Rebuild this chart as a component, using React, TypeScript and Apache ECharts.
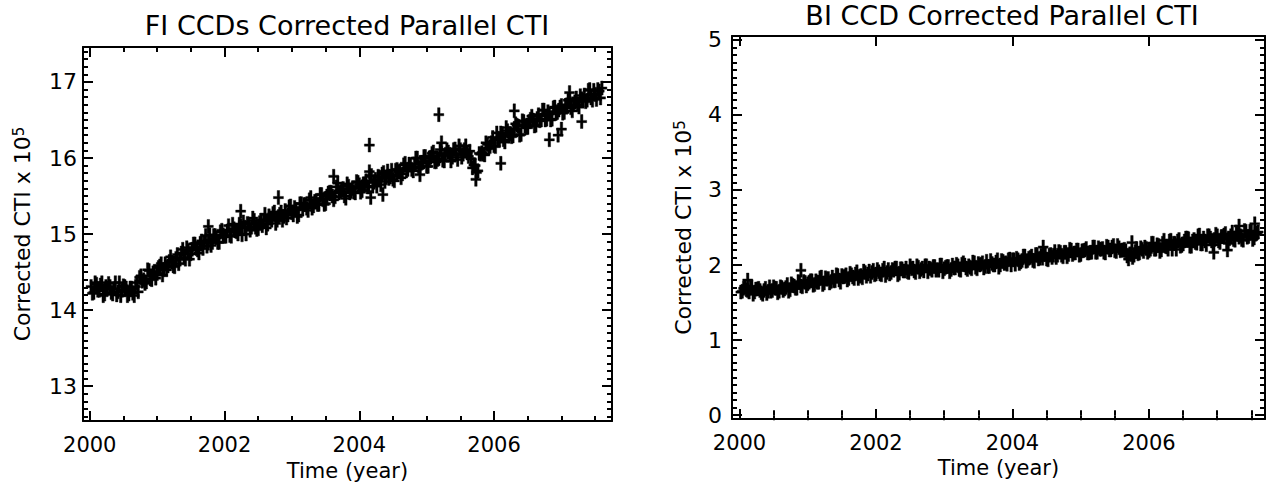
import React, { useEffect, useRef } from "react";
import * as echarts from "echarts";

// Observation times, first set
const years = [
  2000.02, 2000.06, 2000.10, 2000.14, 2000.18, 2000.22, 2000.26, 2000.30, 2000.34, 2000.38, 2000.42, 2000.46, 2000.50, 2000.54, 2000.58, 2000.62, 2000.66, 2000.70, 2000.74, 2000.78, 2000.82, 2000.86, 2000.90, 2000.94, 2000.98,
  2001.02, 2001.06, 2001.10, 2001.14, 2001.18, 2001.22, 2001.26, 2001.30, 2001.34, 2001.38, 2001.42, 2001.46, 2001.50, 2001.54, 2001.58, 2001.62, 2001.66, 2001.70, 2001.74, 2001.78, 2001.82, 2001.86, 2001.90, 2001.94, 2001.98,
  2002.02, 2002.06, 2002.10, 2002.14, 2002.18, 2002.22, 2002.26, 2002.30, 2002.34, 2002.38, 2002.42, 2002.46, 2002.50, 2002.54, 2002.58, 2002.62, 2002.66, 2002.70, 2002.74, 2002.78, 2002.82, 2002.86, 2002.90, 2002.94, 2002.98,
  2003.02, 2003.06, 2003.10, 2003.14, 2003.18, 2003.22, 2003.26, 2003.30, 2003.34, 2003.38, 2003.42, 2003.46, 2003.50, 2003.54, 2003.58, 2003.62, 2003.66, 2003.70, 2003.74, 2003.78, 2003.82, 2003.86, 2003.90, 2003.94, 2003.98,
  2004.02, 2004.06, 2004.10, 2004.14, 2004.18, 2004.22, 2004.26, 2004.30, 2004.34, 2004.38, 2004.42, 2004.46, 2004.50, 2004.54, 2004.58, 2004.62, 2004.66, 2004.70, 2004.74, 2004.78, 2004.82, 2004.86, 2004.90, 2004.94, 2004.98,
  2005.02, 2005.06, 2005.10, 2005.14, 2005.18, 2005.22, 2005.26, 2005.30, 2005.34, 2005.38, 2005.42, 2005.46, 2005.50, 2005.54, 2005.58, 2005.62, 2005.66, 2005.70, 2005.74, 2005.78, 2005.82, 2005.86, 2005.90, 2005.94, 2005.98,
  2006.02, 2006.06, 2006.10, 2006.14, 2006.18, 2006.22, 2006.26, 2006.30, 2006.34, 2006.38, 2006.42, 2006.46, 2006.50, 2006.54, 2006.58, 2006.62, 2006.66, 2006.70, 2006.74, 2006.78, 2006.82, 2006.86, 2006.90, 2006.94, 2006.98,
  2007.02, 2007.06, 2007.10, 2007.14, 2007.18, 2007.22, 2007.26, 2007.30, 2007.34, 2007.38, 2007.42, 2007.46, 2007.50, 2007.54, 2007.58,
];

// Observation times, second (interleaved) set
const yearsB = [
  2000.04, 2000.08, 2000.12, 2000.16, 2000.20, 2000.24, 2000.28, 2000.32, 2000.36, 2000.40, 2000.44, 2000.48, 2000.52, 2000.56, 2000.60, 2000.64, 2000.68, 2000.72, 2000.76, 2000.80, 2000.84, 2000.88, 2000.92, 2000.96, 2001.00,
  2001.04, 2001.08, 2001.12, 2001.16, 2001.20, 2001.24, 2001.28, 2001.32, 2001.36, 2001.40, 2001.44, 2001.48, 2001.52, 2001.56, 2001.60, 2001.64, 2001.68, 2001.72, 2001.76, 2001.80, 2001.84, 2001.88, 2001.92, 2001.96, 2002.00,
  2002.04, 2002.08, 2002.12, 2002.16, 2002.20, 2002.24, 2002.28, 2002.32, 2002.36, 2002.40, 2002.44, 2002.48, 2002.52, 2002.56, 2002.60, 2002.64, 2002.68, 2002.72, 2002.76, 2002.80, 2002.84, 2002.88, 2002.92, 2002.96, 2003.00,
  2003.04, 2003.08, 2003.12, 2003.16, 2003.20, 2003.24, 2003.28, 2003.32, 2003.36, 2003.40, 2003.44, 2003.48, 2003.52, 2003.56, 2003.60, 2003.64, 2003.68, 2003.72, 2003.76, 2003.80, 2003.84, 2003.88, 2003.92, 2003.96, 2004.00,
  2004.04, 2004.08, 2004.12, 2004.16, 2004.20, 2004.24, 2004.28, 2004.32, 2004.36, 2004.40, 2004.44, 2004.48, 2004.52, 2004.56, 2004.60, 2004.64, 2004.68, 2004.72, 2004.76, 2004.80, 2004.84, 2004.88, 2004.92, 2004.96, 2005.00,
  2005.04, 2005.08, 2005.12, 2005.16, 2005.20, 2005.24, 2005.28, 2005.32, 2005.36, 2005.40, 2005.44, 2005.48, 2005.52, 2005.56, 2005.60, 2005.64, 2005.68, 2005.72, 2005.76, 2005.80, 2005.84, 2005.88, 2005.92, 2005.96, 2006.00,
  2006.04, 2006.08, 2006.12, 2006.16, 2006.20, 2006.24, 2006.28, 2006.32, 2006.36, 2006.40, 2006.44, 2006.48, 2006.52, 2006.56, 2006.60, 2006.64, 2006.68, 2006.72, 2006.76, 2006.80, 2006.84, 2006.88, 2006.92, 2006.96, 2007.00,
  2007.04, 2007.08, 2007.12, 2007.16, 2007.20, 2007.24, 2007.28, 2007.32, 2007.36, 2007.40, 2007.44, 2007.48, 2007.52, 2007.56, 2007.60,
];

// FI CCDs corrected parallel CTI (x 1e5), first set
const fiCti = [
  14.31, 14.23, 14.34, 14.26, 14.36, 14.21, 14.29, 14.31, 14.21, 14.36, 14.24, 14.19, 14.32, 14.29, 14.21, 14.29, 14.19, 14.36, 14.43, 14.38, 14.35, 14.53, 14.41, 14.49, 14.42,
  14.56, 14.61, 14.53, 14.53, 14.64, 14.63, 14.57, 14.73, 14.67, 14.80, 14.67, 14.78, 14.74, 14.87, 14.81, 14.75, 14.91, 14.89, 14.84, 14.99, 14.89, 14.98, 14.89, 15.03, 14.99,
  14.97, 15.11, 14.97, 15.07, 15.03, 15.13, 14.99, 15.09, 15.14, 15.05, 15.21, 15.09, 15.07, 15.18, 15.18, 15.08, 15.24, 15.18, 15.29, 15.18, 15.26, 15.18, 15.31, 15.25, 15.37,
  15.25, 15.32, 15.25, 15.40, 15.39, 15.34, 15.45, 15.34, 15.43, 15.39, 15.52, 15.45, 15.40, 15.54, 15.55, 15.45, 15.62, 15.54, 15.59, 15.50, 15.66, 15.54, 15.60, 15.54, 15.68,
  15.55, 15.66, 15.70, 15.62, 15.77, 15.68, 15.63, 15.75, 15.79, 15.69, 15.83, 15.75, 15.72, 15.84, 15.82, 15.74, 15.91, 15.83, 15.92, 15.85, 15.92, 16.00, 15.87, 15.94, 16.02,
  15.89, 16.01, 16.08, 15.95, 15.99, 16.06, 15.96, 16.11, 16.05, 16.01, 16.12, 15.98, 16.11, 16.05, 16.16, 16.02, 15.99, 15.91, 15.81, 16.06, 16.07, 16.04, 16.18, 16.15, 16.27,
  16.15, 16.26, 16.33, 16.24, 16.40, 16.29, 16.28, 16.39, 16.43, 16.30, 16.49, 16.42, 16.40, 16.51, 16.50, 16.43, 16.57, 16.50, 16.63, 16.51, 16.58, 16.51, 16.67, 16.60, 16.67,
  16.59, 16.69, 16.76, 16.66, 16.70, 16.79, 16.67, 16.78, 16.83, 16.76, 16.90, 16.76, 16.84, 16.90, 16.79,
];

// FI CCDs corrected parallel CTI (x 1e5), second set
const fiCtiB = [
  14.22, 14.36, 14.26, 14.33, 14.19, 14.31, 14.35, 14.23, 14.28, 14.20, 14.36, 14.26, 14.31, 14.19, 14.29, 14.22, 14.31, 14.24, 14.45, 14.40, 14.37, 14.52, 14.40, 14.51, 14.48,
  14.58, 14.46, 14.61, 14.58, 14.70, 14.58, 14.68, 14.61, 14.75, 14.69, 14.82, 14.67, 14.80, 14.87, 14.79, 14.88, 14.81, 14.98, 14.88, 14.85, 14.98, 14.95, 14.89, 15.05, 14.97,
  15.04, 14.98, 15.13, 15.04, 15.00, 15.11, 15.16, 15.00, 15.13, 15.09, 15.18, 15.06, 15.15, 15.11, 15.26, 15.13, 15.21, 15.27, 15.14, 15.23, 15.29, 15.23, 15.21, 15.36, 15.28,
  15.35, 15.23, 15.40, 15.33, 15.39, 15.31, 15.48, 15.37, 15.43, 15.39, 15.52, 15.39, 15.50, 15.55, 15.50, 15.49, 15.67, 15.56, 15.60, 15.47, 15.63, 15.56, 15.55, 15.69, 15.65,
  15.57, 15.66, 15.62, 15.76, 15.63, 15.72, 15.76, 15.65, 15.81, 15.74, 15.73, 15.84, 15.70, 15.85, 15.82, 15.79, 15.93, 15.85, 15.91, 15.83, 16.00, 15.89, 15.93, 16.02, 15.89,
  16.00, 16.06, 15.95, 15.98, 16.11, 15.97, 16.05, 16.08, 15.96, 16.11, 16.05, 16.16, 16.01, 16.11, 16.07, 16.09, 15.87, 15.90, 15.83, 16.05, 16.05, 16.20, 16.13, 16.20, 16.16,
  16.33, 16.24, 16.32, 16.21, 16.36, 16.32, 16.29, 16.45, 16.42, 16.31, 16.48, 16.40, 16.48, 16.55, 16.42, 16.52, 16.49, 16.63, 16.50, 16.61, 16.50, 16.66, 16.59, 16.63, 16.69,
  16.60, 16.70, 16.77, 16.62, 16.74, 16.70, 16.82, 16.76, 16.74, 16.89, 16.79, 16.89, 16.77, 16.88, 16.92,
];

// BI CCD corrected parallel CTI (x 1e5), first set
const biCti = [
  1.64, 1.69, 1.67, 1.64, 1.71, 1.64, 1.68, 1.66, 1.61, 1.69, 1.65, 1.65, 1.71, 1.69, 1.65, 1.70, 1.68, 1.74, 1.67, 1.73, 1.69, 1.78, 1.72, 1.78, 1.72,
  1.77, 1.79, 1.74, 1.77, 1.83, 1.74, 1.83, 1.82, 1.78, 1.79, 1.87, 1.80, 1.86, 1.85, 1.80, 1.89, 1.84, 1.88, 1.82, 1.86, 1.92, 1.85, 1.92, 1.90, 1.87,
  1.94, 1.88, 1.93, 1.86, 1.94, 1.90, 1.93, 1.96, 1.89, 1.95, 1.92, 1.91, 1.99, 1.96, 1.90, 1.97, 1.94, 1.92, 1.99, 1.96, 1.93, 1.98, 1.94, 2.00, 1.91,
  1.97, 1.98, 1.94, 1.96, 2.01, 1.94, 2.01, 2.00, 1.94, 1.97, 2.04, 1.97, 2.02, 2.01, 1.96, 2.05, 1.98, 2.02, 2.00, 2.07, 2.00, 2.05, 2.03, 2.07, 2.00,
  2.07, 2.09, 2.02, 2.06, 2.12, 2.06, 2.10, 2.06, 2.14, 2.08, 2.13, 2.14, 2.08, 2.13, 2.10, 2.18, 2.13, 2.17, 2.11, 2.17, 2.14, 2.20, 2.16, 2.20, 2.13,
  2.19, 2.20, 2.16, 2.17, 2.24, 2.17, 2.23, 2.21, 2.17, 2.25, 2.20, 2.24, 2.19, 2.26, 2.19, 2.20, 2.19, 2.08, 2.14, 2.13, 2.22, 2.16, 2.21, 2.24, 2.17,
  2.21, 2.29, 2.21, 2.26, 2.20, 2.33, 2.24, 2.32, 2.21, 2.29, 2.32, 2.25, 2.28, 2.36, 2.35, 2.25, 2.34, 2.29, 2.40, 2.28, 2.32, 2.39, 2.36, 2.27, 2.41,
  2.32, 2.38, 2.40, 2.30, 2.35, 2.44, 2.33, 2.41, 2.39, 2.33, 2.45, 2.38, 2.45, 2.36, 2.43,
];

// BI CCD corrected parallel CTI (x 1e5), second set
const biCtiB = [
  1.65, 1.71, 1.66, 1.70, 1.61, 1.68, 1.69, 1.63, 1.66, 1.62, 1.71, 1.66, 1.69, 1.63, 1.71, 1.66, 1.70, 1.65, 1.75, 1.72, 1.69, 1.77, 1.71, 1.77, 1.75,
  1.79, 1.73, 1.79, 1.77, 1.84, 1.76, 1.81, 1.76, 1.84, 1.79, 1.86, 1.77, 1.84, 1.87, 1.82, 1.87, 1.82, 1.91, 1.85, 1.83, 1.90, 1.88, 1.85, 1.93, 1.88,
  1.91, 1.87, 1.96, 1.90, 1.88, 1.94, 1.96, 1.87, 1.95, 1.92, 1.96, 1.90, 1.95, 1.92, 1.99, 1.91, 1.96, 1.99, 1.91, 1.95, 1.98, 1.93, 1.93, 2.00, 1.95,
  1.98, 1.91, 2.00, 1.96, 1.99, 1.93, 2.03, 1.96, 1.99, 1.95, 2.03, 1.95, 2.00, 2.03, 1.98, 1.98, 2.06, 2.00, 2.04, 1.97, 2.06, 2.02, 2.01, 2.08, 2.07,
  2.01, 2.07, 2.04, 2.12, 2.05, 2.09, 2.12, 2.05, 2.14, 2.09, 2.09, 2.14, 2.07, 2.14, 2.13, 2.10, 2.18, 2.13, 2.17, 2.11, 2.21, 2.14, 2.16, 2.20, 2.14,
  2.19, 2.22, 2.16, 2.17, 2.24, 2.17, 2.21, 2.22, 2.16, 2.24, 2.20, 2.26, 2.18, 2.23, 2.20, 2.21, 2.12, 2.15, 2.10, 2.18, 2.15, 2.23, 2.18, 2.22, 2.19,
  2.29, 2.21, 2.27, 2.18, 2.29, 2.25, 2.21, 2.33, 2.29, 2.21, 2.34, 2.26, 2.32, 2.36, 2.25, 2.32, 2.30, 2.39, 2.28, 2.36, 2.27, 2.39, 2.32, 2.34, 2.39,
  2.30, 2.38, 2.42, 2.29, 2.39, 2.34, 2.44, 2.37, 2.34, 2.46, 2.37, 2.45, 2.34, 2.41, 2.44,
];

// Isolated points standing off the main bands
const fiOutlierYears = [2001.76, 2002.24, 2002.80, 2003.62, 2004.15, 2004.15, 2004.17, 2004.35, 2004.90, 2005.18, 2005.22, 2005.73, 2006.10, 2006.30, 2006.82, 2006.95, 2007.00, 2007.12, 2007.30];
const fiOutlierCti = [15.10, 15.30, 15.48, 15.76, 16.17, 15.82, 15.48, 15.52, 15.78, 16.57, 16.20, 15.72, 15.93, 16.62, 16.24, 16.30, 16.38, 16.86, 16.48];
const biOutlierYears = [2000.12, 2000.90, 2004.45, 2005.75, 2006.95, 2007.15, 2007.32, 2007.55];
const biOutlierCti = [1.80, 1.93, 2.24, 2.30, 2.17, 2.20, 2.52, 2.55];

// Tick labels
const xMajorTicks = [2000, 2002, 2004, 2006];
const xMinorTicks = [2000.5, 2001, 2001.5, 2002.5, 2003, 2003.5, 2004.5, 2005, 2005.5, 2006.5, 2007, 2007.5];
const fiYTicks = [13, 14, 15, 16, 17];
const biYTicks = [0, 1, 2, 3, 4, 5];

const titles = ["FI CCDs Corrected Parallel CTI", "BI CCD Corrected Parallel CTI"];
const xName = "Time (year)";
const yName = "Corrected CTI x 10{sup|5}";

const FONT = "DejaVu Sans";
const BLACK = "#000";
const PLUS =
  "path://M-0.25,-1 L0.25,-1 L0.25,-0.16 L1,-0.16 L1,0.16 L0.25,0.16 L0.25,1 L-0.25,1 L-0.25,0.16 L-1,0.16 L-1,-0.16 L-0.25,-0.16 Z";

function minorTenths(lo: number, hi: number): number[] {
  const out: number[] = [];
  for (let k = Math.ceil(lo * 10); k <= Math.floor(hi * 10); k++) {
    if (k % 10 !== 0) out.push(k / 10);
  }
  return out;
}

function xAxesFor(gridIndex: number, min: number, max: number, nameGap: number) {
  const common = { type: "value", gridIndex, min, max, splitLine: { show: false } };
  const line = { show: true, onZero: false, lineStyle: { color: BLACK, width: 2 } };
  const major = { show: true, inside: true, length: 10, lineStyle: { color: BLACK, width: 2 }, customValues: xMajorTicks };
  const minor = { show: true, inside: true, length: 5, lineStyle: { color: BLACK, width: 2 }, customValues: xMinorTicks };
  return [
    {
      ...common,
      position: "bottom",
      axisLine: line,
      axisTick: major,
      axisLabel: {
        show: true,
        customValues: xMajorTicks,
        color: BLACK,
        fontSize: 21,
        fontFamily: FONT,
        margin: 13,
        formatter: (v: number) => String(v),
      },
      name: xName,
      nameLocation: "middle",
      nameGap,
      nameTextStyle: { color: BLACK, fontSize: 21, fontFamily: FONT },
    },
    { ...common, position: "top", axisLine: line, axisTick: major, axisLabel: { show: false } },
    { ...common, position: "bottom", axisLine: { show: false }, axisTick: minor, axisLabel: { show: false } },
    { ...common, position: "top", axisLine: { show: false }, axisTick: minor, axisLabel: { show: false } },
  ];
}

function yAxesFor(gridIndex: number, min: number, max: number, majors: number[], labelMargin: number, nameGap: number) {
  const minors = minorTenths(min, max);
  const common = { type: "value", gridIndex, min, max, splitLine: { show: false } };
  const line = { show: true, onZero: false, lineStyle: { color: BLACK, width: 2 } };
  const major = { show: true, inside: true, length: 10, lineStyle: { color: BLACK, width: 2 }, customValues: majors };
  const minor = { show: true, inside: true, length: 5, lineStyle: { color: BLACK, width: 2 }, customValues: minors };
  return [
    {
      ...common,
      position: "left",
      axisLine: line,
      axisTick: major,
      axisLabel: {
        show: true,
        customValues: majors,
        color: BLACK,
        fontSize: 22,
        fontFamily: FONT,
        margin: labelMargin,
        formatter: (v: number) => String(v),
      },
      name: yName,
      nameLocation: "middle",
      nameGap,
      nameTextStyle: {
        color: BLACK,
        fontSize: 22,
        fontFamily: FONT,
        rich: { sup: { fontSize: 15, fontFamily: FONT, color: BLACK, verticalAlign: "top" } },
      },
    },
    { ...common, position: "right", axisLine: line, axisTick: major, axisLabel: { show: false } },
    { ...common, position: "left", axisLine: { show: false }, axisTick: minor, axisLabel: { show: false } },
    { ...common, position: "right", axisLine: { show: false }, axisTick: minor, axisLabel: { show: false } },
  ];
}

function pairs(xs: number[], ys: number[]): number[][] {
  return xs.map((x, i) => [x, ys[i]]);
}

export default function App() {
  const ref = useRef<HTMLDivElement>(null);
  useEffect(() => {
    if (!ref.current) return;
    const chart = echarts.init(ref.current, undefined, { renderer: "svg" });
    const markerStyle = { color: BLACK, opacity: 1, borderColor: BLACK, borderWidth: 0.4 };
    const titleStyle = (text: string) => ({
      text,
      fill: BLACK,
      font: `27px "${FONT}"`,
      fontSize: 27,
      fontFamily: FONT,
      align: "center",
      verticalAlign: "middle",
      textAlign: "center",
      textVerticalAlign: "middle",
    });
    chart.setOption({
      animation: false,
      backgroundColor: "#fff",
      grid: [
        { left: 83, top: 47, width: 529, height: 375 },
        { left: 732, top: 36, width: 533, height: 383 },
      ],
      xAxis: [...xAxesFor(0, 1999.9, 2007.75, 31), ...xAxesFor(1, 1999.89, 2007.7, 32)],
      yAxis: [...yAxesFor(0, 12.54, 17.46, fiYTicks, 6, 50), ...yAxesFor(1, -0.05, 5.05, biYTicks, 10, 38)],
      series: [
        {
          type: "scatter",
          xAxisIndex: 0,
          yAxisIndex: 0,
          symbol: PLUS,
          symbolSize: [10, 14],
          itemStyle: markerStyle,
          emphasis: { disabled: true },
          data: [...pairs(years, fiCti), ...pairs(yearsB, fiCtiB), ...pairs(fiOutlierYears, fiOutlierCti)],
        },
        {
          type: "scatter",
          xAxisIndex: 4,
          yAxisIndex: 4,
          symbol: PLUS,
          symbolSize: [10, 14],
          itemStyle: markerStyle,
          emphasis: { disabled: true },
          data: [...pairs(years, biCti), ...pairs(yearsB, biCtiB), ...pairs(biOutlierYears, biOutlierCti)],
        },
      ],
      graphic: [
        { type: "text", x: 347, y: 25, style: titleStyle(titles[0]) },
        { type: "text", x: 1002, y: 15, style: titleStyle(titles[1]) },
      ],
    });
    return () => chart.dispose();
  }, []);
  return (
    <div
      ref={ref}
      style={{ position: "fixed", left: 0, top: 0, width: 1267, height: 486, background: "#fff" }}
    />
  );
}
